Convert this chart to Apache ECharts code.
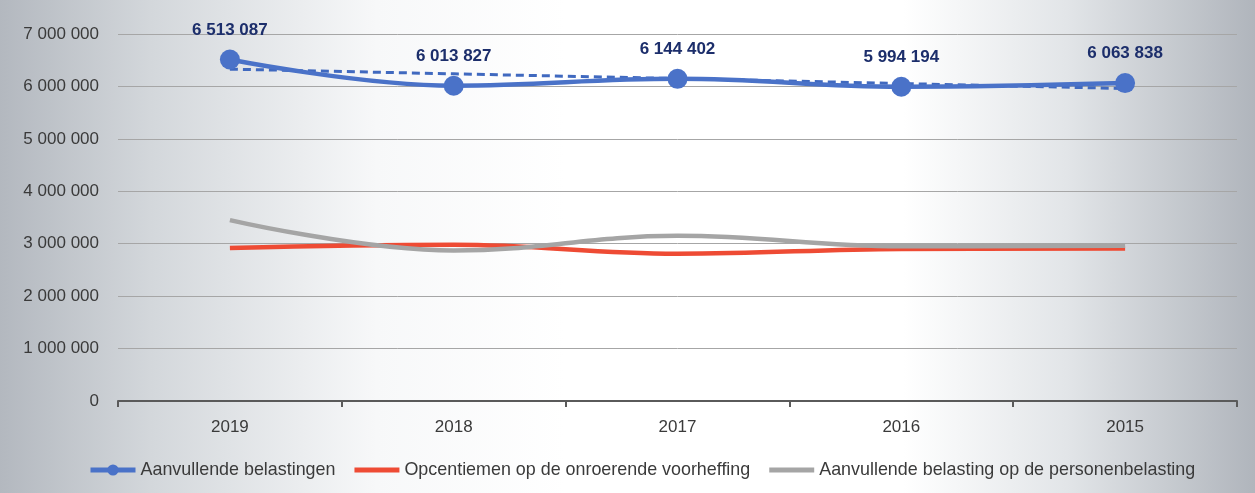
<!DOCTYPE html>
<html>
<head>
<meta charset="utf-8">
<script src="https://cdn.jsdelivr.net/npm/echarts@6/dist/echarts.min.js"></script>
<style>html,body{margin:0;padding:0;background:#fff}#c{width:1255px;height:493px}</style>
</head>
<body>
<div id="c"></div>
<script>
const years = ['2019', '2018', '2017', '2016', '2015'];
const aanvullendeBelastingen = [6513087, 6013827, 6144402, 5994194, 6063838];
const trendAanvullende = [6330000, 6240000, 6150000, 6055000, 5960000];
const opcentiemen = [2920000, 2980000, 2810000, 2900000, 2910000];
const personenbelasting = [3450000, 2870000, 3150000, 2950000, 2960000];
const yTicks = { min: 0, max: 7000000, interval: 1000000 };

function fmt(v) {
  return String(v).replace(/\B(?=(\d{3})+(?!\d))/g, ' ');
}

const chart = echarts.init(document.getElementById('c'), null, { renderer: 'canvas' });
const FONT = 'Liberation Sans';
const barIcon = 'path://M0,0h0.01v0.01h-0.01z M0,14h0.01v0.01h-0.01z M0,4.5h45v5h-45z';
chart.setOption({
  backgroundColor: {
    type: 'linear', x: 0, y: 0, x2: 1, y2: 0,
    colorStops: [
      { offset: 0, color: '#b3b8bf' },
      { offset: 0.12, color: '#d3d7db' },
      { offset: 0.3, color: '#f7f8f9' },
      { offset: 0.45, color: '#ffffff' },
      { offset: 0.72, color: '#ffffff' },
      { offset: 0.85, color: '#e2e5e8' },
      { offset: 1, color: '#b0b5bc' }
    ]
  },
  animation: false,
  grid: { left: 118, right: 18, top: 34, bottom: 92 },
  legend: {
    data: [
      { name: 'Aanvullende belastingen', lineStyle: { width: 5 } },
      { name: 'Opcentiemen op de onroerende voorheffing', icon: barIcon },
      { name: 'Aanvullende belasting op de personenbelasting', icon: barIcon }
    ],
    left: 83, top: 456,
    itemWidth: 45, itemHeight: 14, itemGap: 19,
    textStyle: { color: '#3a3a3a', fontFamily: FONT, fontSize: 17.9 }
  },
  xAxis: {
    type: 'category',
    data: years,
    boundaryGap: true,
    axisLine: { lineStyle: { color: '#5a5a5a', width: 2 } },
    axisTick: { show: true, length: 6, lineStyle: { color: '#5a5a5a', width: 2 } },
    axisLabel: { color: '#3a3a3a', fontFamily: FONT, fontSize: 17, margin: 18 },
    splitLine: { show: false }
  },
  yAxis: {
    type: 'value',
    min: yTicks.min, max: yTicks.max, interval: yTicks.interval,
    axisLine: { show: false },
    axisTick: { show: false },
    axisLabel: { color: '#3a3a3a', fontFamily: FONT, fontSize: 17, margin: 19, formatter: fmt },
    splitLine: { lineStyle: { color: '#a6a6a6', width: 1 } }
  },
  series: [
    {
      name: 'Opcentiemen op de onroerende voorheffing',
      type: 'line', data: opcentiemen, smooth: 0.4, symbol: 'none',
      lineStyle: { color: '#ee4b34', width: 4.5 }, itemStyle: { color: '#ee4b34' }, z: 2
    },
    {
      name: 'Aanvullende belasting op de personenbelasting',
      type: 'line', data: personenbelasting, smooth: 0.4, symbol: 'none',
      lineStyle: { color: '#a5a5a5', width: 4.5 }, itemStyle: { color: '#a5a5a5' }, z: 3
    },
    {
      name: 'Trend',
      type: 'line', data: trendAanvullende, symbol: 'none',
      lineStyle: { color: '#4069bf', width: 3, type: [8, 5] }, z: 4
    },
    {
      name: 'Aanvullende belastingen',
      type: 'line', data: aanvullendeBelastingen, smooth: 0.4,
      symbol: 'circle', symbolSize: 20,
      lineStyle: { color: '#4a72c8', width: 4.5 },
      itemStyle: { color: '#4a72c8' },
      label: {
        show: true, position: 'top', distance: 11,
        formatter: p => fmt(p.value),
        color: '#1c2e6b', fontFamily: FONT, fontWeight: 'bold', fontSize: 17
      },
      z: 5
    }
  ]
});
</script>
</body>
</html>
